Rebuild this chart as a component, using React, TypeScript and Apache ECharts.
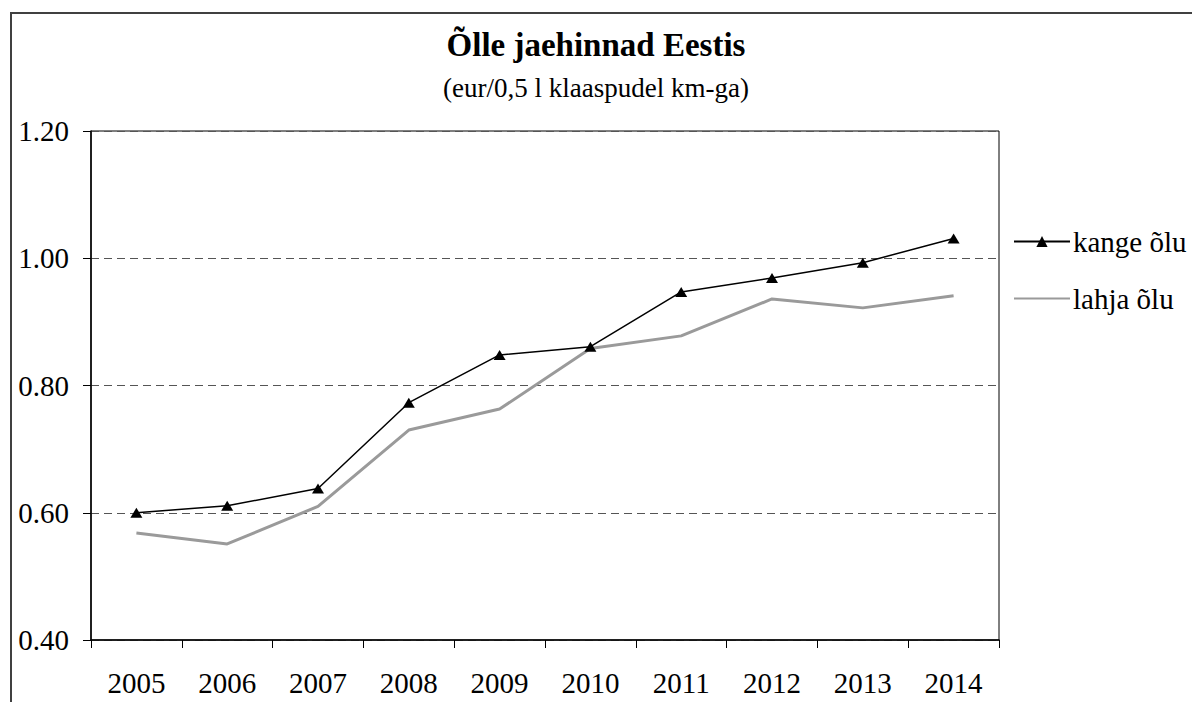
import React, { useEffect, useRef } from "react";
import * as echarts from "echarts";

const years = ["2005", "2006", "2007", "2008", "2009", "2010", "2011", "2012", "2013", "2014"];
const kangeOlu = [0.600, 0.611, 0.638, 0.773, 0.848, 0.861, 0.947, 0.969, 0.993, 1.031];
const lahjaOlu = [0.568, 0.551, 0.610, 0.730, 0.763, 0.858, 0.878, 0.936, 0.922, 0.941];
const seriesNames = ["kange õlu", "lahja õlu"];
const titleText = "Õlle jaehinnad Eestis";
const subtitleText = "(eur/0,5 l klaaspudel km-ga)";

const FONT = "Liberation Serif";

export default function App() {
  const ref = useRef<HTMLDivElement>(null);
  useEffect(() => {
    if (!ref.current) return;
    const chart = echarts.init(ref.current, null, { renderer: "svg" });
    chart.setOption({
      animation: false,
      backgroundColor: "#ffffff",
      textStyle: { fontFamily: FONT },
      title: {
        text: titleText,
        subtext: subtitleText,
        left: "center",
        top: 23,
        itemGap: 13,
        textStyle: { fontFamily: FONT, fontSize: 33, fontWeight: "bold", color: "#000" },
        subtextStyle: { fontFamily: FONT, fontSize: 27, color: "#000" },
      },
      graphic: [
        {
          type: "rect",
          shape: { x: 11, y: 13, width: 1300, height: 800 },
          style: { fill: "none", stroke: "#404040", lineWidth: 2 },
          silent: true,
        },
      ],
      legend: {
        orient: "vertical",
        left: 1008,
        top: 222,
        itemWidth: 56,
        itemHeight: 14,
        itemGap: 28,
        data: [
          { name: seriesNames[0] },
          { name: seriesNames[1], itemStyle: { opacity: 0 } },
        ],
        textStyle: { fontFamily: FONT, fontSize: 29, color: "#000", padding: [0, 0, 0, -2] },
      },
      grid: {
        left: 91,
        top: 131,
        right: 193,
        bottom: 62,
        show: true,
        borderColor: "#000",
        borderWidth: 1,
      },
      xAxis: {
        type: "category",
        data: years,
        boundaryGap: true,
        axisLine: { show: true, lineStyle: { color: "#000", width: 1.5 } },
        axisTick: { show: true, inside: false, length: 8, alignWithLabel: false, lineStyle: { color: "#000" } },
        axisLabel: { fontFamily: FONT, fontSize: 29, color: "#000", margin: 28 },
        splitLine: { show: false },
      },
      yAxis: {
        type: "value",
        min: 0.4,
        max: 1.2,
        interval: 0.2,
        axisLine: { show: true, lineStyle: { color: "#000", width: 1.5 } },
        axisTick: { show: true, inside: false, length: 8, lineStyle: { color: "#000" } },
        axisLabel: {
          fontFamily: FONT,
          fontSize: 29,
          color: "#000",
          margin: 22,
          formatter: (v: number) => v.toFixed(2),
        },
        splitLine: {
          show: true,
          lineStyle: { color: "#555", type: [8, 5], width: 1 },
        },
      },
      series: [
        {
          name: seriesNames[0],
          type: "line",
          data: kangeOlu,
          symbol: "triangle",
          symbolSize: [12, 10],
          itemStyle: { color: "#000" },
          lineStyle: { color: "#000", width: 1.5 },
          z: 3,
        },
        {
          name: seriesNames[1],
          type: "line",
          data: lahjaOlu,
          symbol: "none",
          showSymbol: false,
          itemStyle: { color: "#9a9a9a" },
          lineStyle: { color: "#9a9a9a", width: 3 },
          z: 2,
        },
      ],
    });
    return () => chart.dispose();
  }, []);
  return (
    <div
      ref={ref}
      style={{ position: "fixed", left: 0, top: 0, width: 1192, height: 702 }}
    />
  );
}
